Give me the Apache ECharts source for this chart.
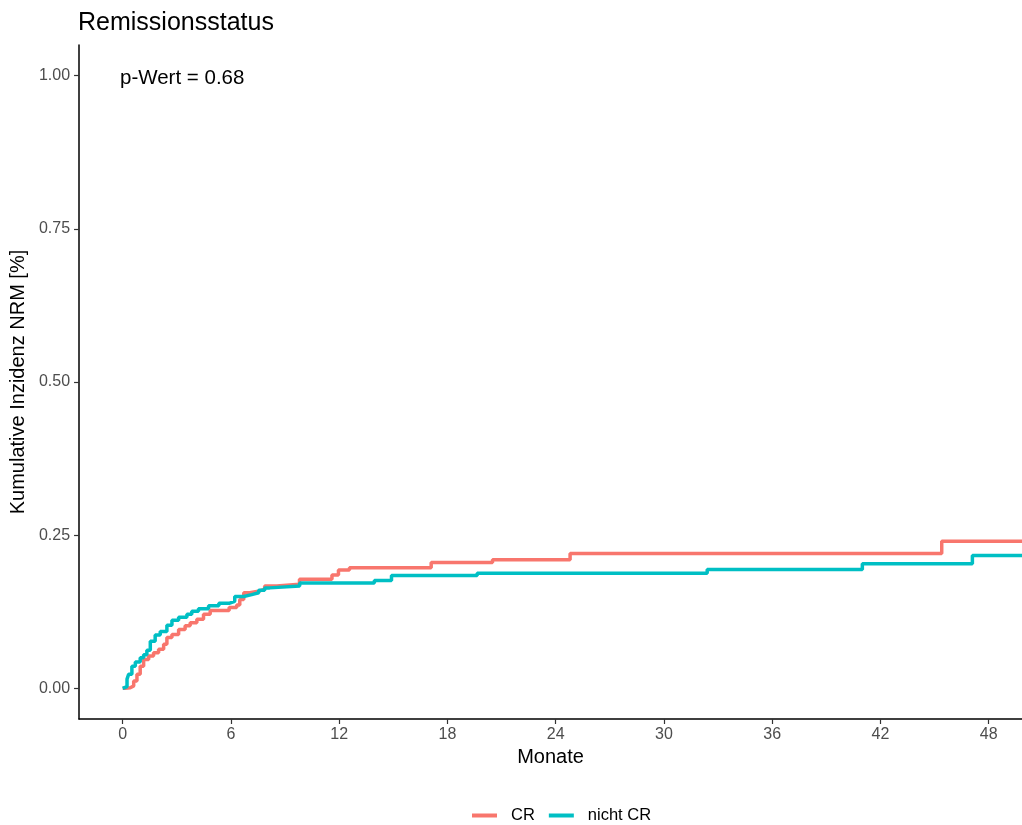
<!DOCTYPE html>
<html>
<head>
<meta charset="utf-8">
<script src="https://cdn.jsdelivr.net/npm/echarts@6/dist/echarts.min.js"></script>
<style>html,body{margin:0;padding:0;background:#fff}#c{width:1022px;height:825px}</style>
</head>
<body>
<div id="c"></div>
<script>
// Data (months, cumulative incidence)
const crTime = [0, 0.14, 0.42, 0.61, 0.79, 0.97, 1.16, 1.44, 1.71, 1.99, 2.27, 2.45, 2.73, 3.10, 3.46, 3.74, 4.11, 4.48, 4.85, 5.9, 6.32, 6.49, 6.71, 7.04, 7.59, 7.87, 8.54, 9.8, 11.6, 11.96, 12.57, 17.1, 20.5, 24.8, 45.4, 49.85];
const crValue = [0, 0.001, 0.004, 0.012, 0.023, 0.036, 0.047, 0.053, 0.058, 0.064, 0.072, 0.083, 0.088, 0.096, 0.102, 0.107, 0.113, 0.121, 0.127, 0.132, 0.136, 0.145, 0.156, 0.159, 0.162, 0.167, 0.170, 0.178, 0.185, 0.193, 0.197, 0.2055, 0.210, 0.220, 0.240, 0.240];
const ncrTime = [0, 0.06, 0.24, 0.33, 0.51, 0.70, 0.97, 1.16, 1.34, 1.53, 1.80, 2.08, 2.45, 2.73, 3.10, 3.56, 3.83, 4.20, 4.76, 5.33, 5.93, 6.21, 6.71, 7.15, 7.54, 7.87, 8.15, 9.81, 13.95, 14.9, 19.65, 32.4, 41.0, 47.1, 49.85];
const ncrValue = [0, 0.003, 0.015, 0.023, 0.036, 0.043, 0.050, 0.055, 0.062, 0.077, 0.087, 0.093, 0.103, 0.111, 0.116, 0.121, 0.126, 0.130, 0.135, 0.139, 0.142, 0.150, 0.153, 0.156, 0.160, 0.164, 0.167, 0.172, 0.176, 0.184, 0.188, 0.194, 0.2034, 0.217, 0.217];
const seriesNames = ['CR', 'nicht CR'];
const xTicks = [0, 6, 12, 18, 24, 30, 36, 42, 48];
const yTicks = [0, 0.25, 0.5, 0.75, 1.0];
const titleText = 'Remissionsstatus';
const pText = 'p-Wert = 0.68';

const zip = (a, b) => a.map((t, i) => [t, b[i]]);
const FONT = 'Liberation Sans, Arial, sans-serif';

const chart = echarts.init(document.getElementById('c'), null, {renderer: 'canvas'});
chart.setOption({
  animation: false,
  backgroundColor: '#ffffff',
  title: {
    text: titleText, left: 78, top: 11, padding: 0,
    textStyle: {fontFamily: FONT, fontSize: 25, fontWeight: 'normal', color: '#000'}
  },
  graphic: [{
    type: 'text', left: 120, top: 68,
    style: {text: pText, font: '20.5px ' + FONT, fill: '#000'}
  }],
  legend: {
    data: seriesNames, left: 472, top: 807, padding: 0,
    icon: 'rect', itemWidth: 25, itemHeight: 4, itemGap: 14,
    textStyle: {fontFamily: FONT, fontSize: 16.5, color: '#000', padding: [0, 0, 0, 9]}
  },
  grid: {left: 76, right: 0, top: 45, bottom: 106, containLabel: false},
  xAxis: {
    type: 'value', min: -2.42, max: 49.85,
    name: 'Monate', nameLocation: 'middle', nameGap: 26,
    nameTextStyle: {fontFamily: FONT, fontSize: 20, color: '#000'},
    axisLine: {show: true, onZero: false, lineStyle: {color: '#000', width: 1.5}},
    axisTick: {show: true, customValues: xTicks, length: 5, lineStyle: {color: '#333', width: 1.2}},
    axisLabel: {customValues: xTicks, margin: 8, fontFamily: FONT, fontSize: 16, color: '#4D4D4D'},
    splitLine: {show: false}
  },
  yAxis: {
    type: 'value', min: -0.05, max: 1.05,
    name: 'Kumulative Inzidenz NRM [%]', nameLocation: 'middle', nameGap: 46,
    nameTextStyle: {fontFamily: FONT, fontSize: 20, color: '#000'},
    axisLine: {show: true, onZero: false, lineStyle: {color: '#000', width: 1.5}},
    axisTick: {show: true, customValues: yTicks, length: 5, lineStyle: {color: '#333', width: 1.2}},
    axisLabel: {customValues: yTicks, margin: 9, fontFamily: FONT, fontSize: 16, color: '#4D4D4D',
      formatter: v => v.toFixed(2)},
    splitLine: {show: false}
  },
  series: [
    {name: seriesNames[0], type: 'line', step: 'end', showSymbol: false, symbol: 'none',
     data: zip(crTime, crValue), color: '#F8766D', lineStyle: {width: 3.5, color: '#F8766D'}, clip: true},
    {name: seriesNames[1], type: 'line', step: 'end', showSymbol: false, symbol: 'none',
     data: zip(ncrTime, ncrValue), color: '#00BFC4', lineStyle: {width: 3.5, color: '#00BFC4'}, clip: true}
  ]
});
</script>
</body>
</html>
